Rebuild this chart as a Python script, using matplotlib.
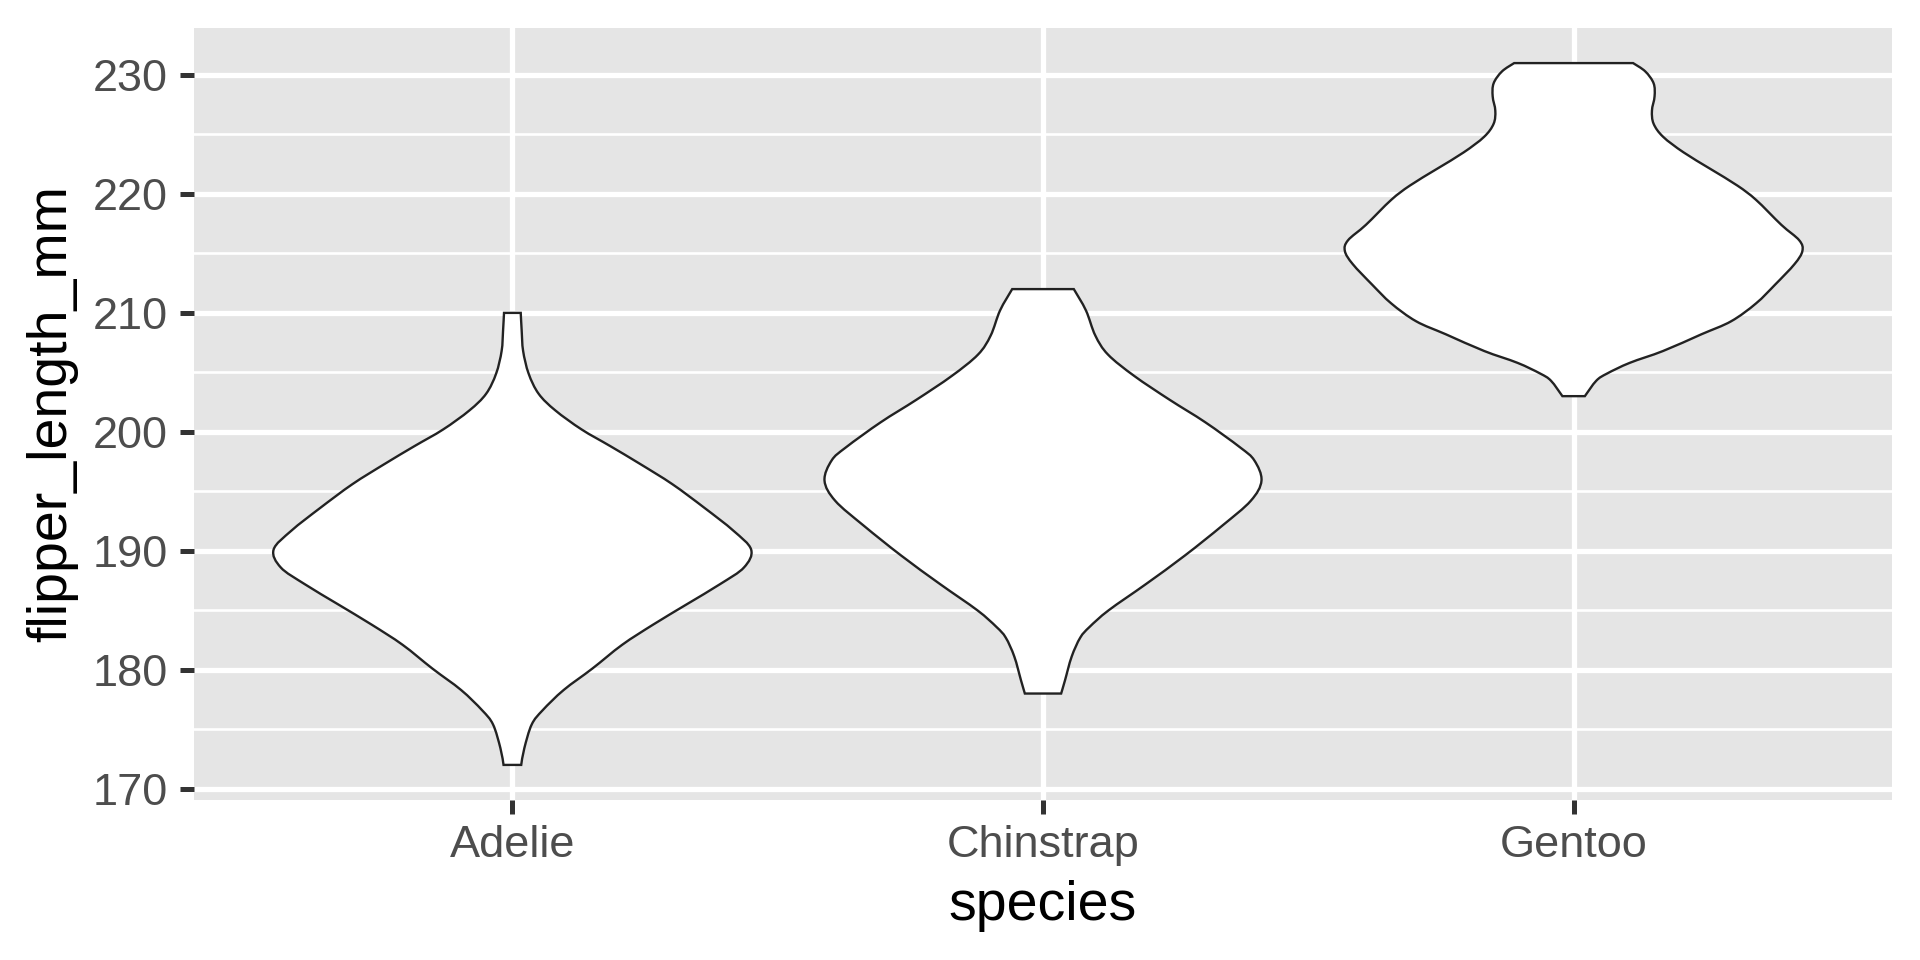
import matplotlib.pyplot as plt
from matplotlib.path import Path
from matplotlib.patches import PathPatch

plt.rcParams['font.family'] = ['Liberation Sans', 'DejaVu Sans']

species = ["Adelie", "Chinstrap", "Gentoo"]

# violin outlines:
# flipper length (mm) and relative violin width (1 = widest violin)
adelie_len = [172.0, 173.4, 175.4, 176.6, 178.3, 180.1, 182.1, 183.8, 185.5, 187.2, 188.6,
              190.1, 191.7, 193.6, 195.6, 197.3, 198.8, 200.2, 201.8, 203.2, 204.9, 206.8, 208.5, 210.0]
adelie_w = [0.037, 0.050, 0.081, 0.127, 0.215, 0.335, 0.460, 0.590, 0.730, 0.870, 0.970,
            1.000, 0.925, 0.805, 0.670, 0.535, 0.410, 0.290, 0.180, 0.110, 0.068, 0.045, 0.039, 0.035]

chinstrap_len = [178.0, 179.1, 181.1, 182.7, 183.6, 185.0, 187.2, 189.6, 192.1, 194.2,
                 195.9, 197.6, 198.7, 200.8, 202.7, 204.7, 206.5, 208.1, 210.2, 212.0]
chinstrap_w = [0.076, 0.092, 0.120, 0.156, 0.195, 0.275, 0.431, 0.594, 0.750, 0.870,
               0.915, 0.885, 0.825, 0.680, 0.530, 0.382, 0.272, 0.219, 0.180, 0.129]

gentoo_len = [203.0, 204.3, 204.9, 205.8, 206.8, 208.2, 209.3, 210.8, 212.4, 214.1, 215.2, 216.1,
              217.4, 219.5, 220.7, 222.1, 223.5, 224.8, 225.9, 227.0, 228.2, 229.3, 230.3, 231.0]
gentoo_w = [0.047, 0.095, 0.140, 0.235, 0.375, 0.535, 0.660, 0.764, 0.845, 0.925, 0.958, 0.945,
            0.870, 0.764, 0.686, 0.573, 0.460, 0.375, 0.335, 0.328, 0.339, 0.335, 0.300, 0.249]

y_major = [170, 180, 190, 200, 210, 220, 230]
y_minor = [175, 185, 195, 205, 215, 225]

outlines = [(adelie_len, adelie_w), (chinstrap_len, chinstrap_w), (gentoo_len, gentoo_w)]


def smooth_side(pts):
    # catmull-rom through the read points, as bezier pieces
    verts, codes = [], []
    n = len(pts)
    for i in range(n - 1):
        p0 = pts[max(i - 1, 0)]
        p1 = pts[i]
        p2 = pts[i + 1]
        p3 = pts[min(i + 2, n - 1)]
        c1 = (p1[0] + (p2[0] - p0[0]) / 6, p1[1] + (p2[1] - p0[1]) / 6)
        c2 = (p2[0] - (p3[0] - p1[0]) / 6, p2[1] - (p3[1] - p1[1]) / 6)
        verts += [c1, c2, p2]
        codes += [Path.CURVE4] * 3
    return verts, codes


fig = plt.figure(figsize=(19.2, 9.6), dpi=100)
ax = fig.add_axes([194 / 1920, 1 - 800 / 960, (1892 - 194) / 1920, (800 - 28) / 960])
ax.set_facecolor('#E5E5E5')

half = 0.45  # ggplot default width 0.9
for i, (ys, ws) in enumerate(outlines):
    pos = i + 1
    right = [(pos + half * w, y) for y, w in zip(ys, ws)]
    left = [(pos - half * w, y) for y, w in zip(ys, ws)][::-1]
    verts, codes = [right[0]], [Path.MOVETO]
    v, c = smooth_side(right)
    verts += v
    codes += c
    verts.append(left[0])
    codes.append(Path.LINETO)
    v, c = smooth_side(left)
    verts += v
    codes += c
    verts.append(right[0])
    codes.append(Path.CLOSEPOLY)
    ax.add_patch(PathPatch(Path(verts, codes), facecolor='white', edgecolor='#222222',
                           linewidth=1.7, zorder=3))

ax.set_xlim(0.4, 3.6)
ax.set_ylim(169.05, 233.95)
ax.set_xticks([1, 2, 3])
ax.set_xticklabels(species)
ax.set_yticks(y_major)
ax.set_yticks(y_minor, minor=True)

ax.grid(which='major', color='white', linewidth=3.8)
ax.grid(which='minor', axis='y', color='white', linewidth=1.9)
ax.set_axisbelow(True)
for s in ax.spines.values():
    s.set_visible(False)

ax.tick_params(which='major', length=9.9, width=3.6, color='#333333',
               labelcolor='#4D4D4D', labelsize=32.5)
ax.tick_params(axis='x', pad=8)
ax.tick_params(axis='y', pad=9)
ax.tick_params(which='minor', length=0)

ax.set_xlabel('species', fontsize=40, color='black', labelpad=10)
ax.set_ylabel('flipper_length_mm', fontsize=40, color='black', labelpad=10)

fig.savefig('out.png', dpi=100, facecolor='white')
